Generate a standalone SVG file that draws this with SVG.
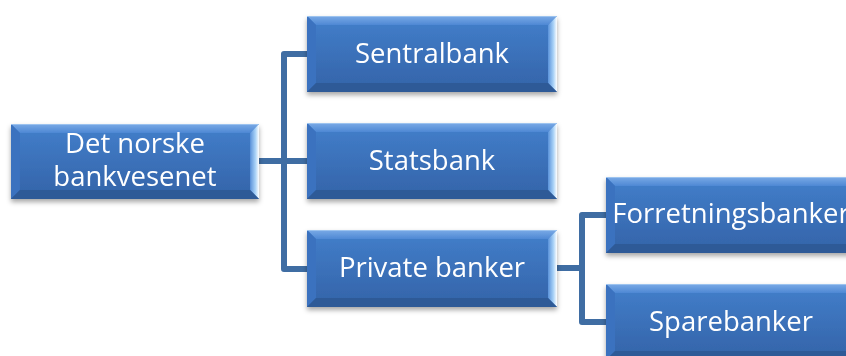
<svg xmlns="http://www.w3.org/2000/svg" xmlns:xlink="http://www.w3.org/1999/xlink" width="846" height="356" viewBox="0 0 846 356">
  <style>
    .lbl { fill: #ffffff; font-family: "Open Sans", "Noto Sans", "Liberation Sans", sans-serif; font-size: 27.5px; text-anchor: middle; }
    .conn { fill: none; stroke: #3f6da3; stroke-width: 6; stroke-linejoin: round; stroke-linecap: butt; }
  </style>
  <defs>
    <linearGradient id="face" x1="0" y1="0" x2="0" y2="1">
      <stop offset="0" stop-color="#427fcb"/>
      <stop offset="1" stop-color="#3463a8"/>
    </linearGradient>
    <linearGradient id="topg" x1="0" y1="0" x2="0" y2="1">
      <stop offset="0" stop-color="#7aaae6"/>
      <stop offset="1" stop-color="#4e88d4"/>
    </linearGradient>
    <linearGradient id="rightg" x1="0" y1="0" x2="1" y2="0">
      <stop offset="0" stop-color="#5a92da"/>
      <stop offset="0.6" stop-color="#a9d2f7"/>
      <stop offset="1" stop-color="#ffffff"/>
    </linearGradient>
    <filter id="shadow" x="-10%" y="-20%" width="120%" height="150%">
      <feDropShadow dx="0" dy="3" stdDeviation="2.5" flood-color="#000000" flood-opacity="0.35"/>
    </filter>
    <symbol id="box" viewBox="0 0 250 76" preserveAspectRatio="none">
      <rect x="0" y="0" width="250" height="76" fill="url(#face)"/>
      <polygon points="0,0 250,0 241,9 9,9" fill="url(#topg)"/>
      <polygon points="0,0 9,9 9,67 0,76" fill="#3b72bf"/>
      <polygon points="250,0 250,76 241,67 241,9" fill="url(#rightg)"/>
      <polygon points="0,76 9,67 241,67 250,76" fill="#2e5a97"/>
      <line x1="0" y1="0.5" x2="250" y2="0.5" stroke="#9cc3ef" stroke-width="1"/>
    </symbol>
  </defs>

  <g id="connectors">
    <path class="conn" d="M307,54 H284 V269 H307"/>
    <path class="conn" d="M258,161 H307"/>
    <path class="conn" d="M557,268 H582"/>
    <path class="conn" d="M606,215 H582 V322 H606"/>
  </g>

  <g id="n0" filter="url(#shadow)">
    <use xlink:href="#box" x="11" y="124" width="248" height="75"/>
    <text class="lbl" x="135" y="153">Det norske</text>
    <text class="lbl" x="135" y="186">bankvesenet</text>
  </g>
  <g id="n1" filter="url(#shadow)">
    <use xlink:href="#box" x="307" y="16" width="250" height="76"/>
    <text class="lbl" x="432" y="63">Sentralbank</text>
  </g>
  <g id="n2" filter="url(#shadow)">
    <use xlink:href="#box" x="307" y="123" width="250" height="76"/>
    <text class="lbl" x="432" y="170">Statsbank</text>
  </g>
  <g id="n3" filter="url(#shadow)">
    <use xlink:href="#box" x="307" y="230" width="250" height="77"/>
    <text class="lbl" x="432" y="277">Private banker</text>
  </g>
  <g id="n4" filter="url(#shadow)">
    <use xlink:href="#box" x="606" y="177" width="250" height="76"/>
    <text class="lbl" x="731" y="223">Forretningsbanker</text>
  </g>
  <g id="n5" filter="url(#shadow)">
    <use xlink:href="#box" x="606" y="284" width="250" height="76"/>
    <text class="lbl" x="731" y="331">Sparebanker</text>
  </g>
</svg>
